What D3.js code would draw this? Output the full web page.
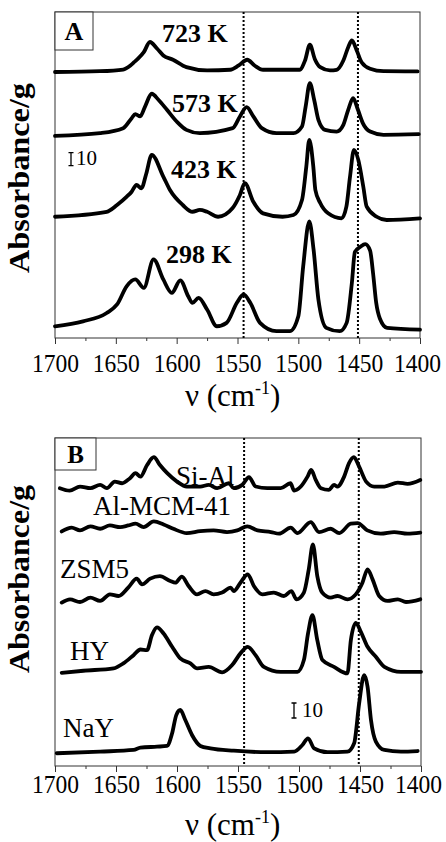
<!DOCTYPE html>
<html>
<head>
<meta charset="utf-8">
<script src="https://cdn.jsdelivr.net/npm/d3@7"></script>
<style>
body { margin: 0; background: #fff; }
text { font-family: "Liberation Serif", "Times New Roman", serif; fill: #000; }
</style>
</head>
<body>
<div id="chart"></div>
<script>
// x ticks (cm-1)
const majorTicks = [1700, 1650, 1600, 1550, 1500, 1450, 1400];
const minorTicks = [1675, 1625, 1575, 1525, 1475, 1425];
const refLines = [1545, 1451];

// panel A: temperature series, [wavenumber, absorbance/g] above each baseline
const labelsA = ["723 K", "573 K", "423 K", "298 K"];
const offsetsA = [204, 155, 93, 9];

const spec723 = [[1700,0],[1663,0.6],[1644,1.9],[1638,5],[1635,7.5],[1632,10],[1627,15.2],[1622,23],[1616,17.8],[1611,12.7],[1603,9.4],[1592,3.7],[1575,1.2],[1556,1.7],[1549,5],[1542,9.4],[1536,5],[1529,1.7],[1499,1.7],[1494.5,8.8],[1490.5,21],[1486.5,10],[1482,3.7],[1474,1.2],[1468.5,1.7],[1463,8.8],[1459,19],[1456,24.2],[1452,16.5],[1448,7.5],[1441,2.5],[1430,0.6],[1402,0.4]];

const spec573 = [[1700,0],[1663,2.1],[1644,5.9],[1637,13.6],[1634,16.7],[1630,14.9],[1626,22.5],[1620.5,32.3],[1615,27.7],[1608,20],[1600,11],[1592,4.6],[1581,2.1],[1554,5.9],[1548,14.9],[1542.5,22],[1537,14.9],[1530,5.9],[1518,2.1],[1504,2.1],[1497,7.2],[1494,22.5],[1490.5,40.5],[1487,27.7],[1483.5,12.3],[1478,4.6],[1468.5,3.3],[1463,8.5],[1459,20],[1455,28.9],[1451,20],[1447,9.8],[1441,3.3],[1430,0.8],[1401,1.3]];

const spec423 = [[1700,0],[1657.5,3.8],[1649,9],[1641,15.4],[1637,19.2],[1633,24.4],[1629,21.8],[1625,33],[1620.5,47.5],[1611,30.8],[1605.5,20.5],[1595,9],[1587,3.8],[1581,5.2],[1575,3.8],[1566,0],[1554,6.7],[1548,16.7],[1544,25.7],[1537,11.5],[1529,2.6],[1513,0],[1504,1.3],[1497,12.8],[1493.5,38],[1491,59],[1487.7,38.5],[1486,20.5],[1482,10.5],[1475.5,2.6],[1464.5,-1.2],[1460.5,7.7],[1457.5,30.8],[1454.3,51.3],[1450.7,43.6],[1446.6,23],[1443.8,7.7],[1435.6,0],[1427.4,-2.5],[1400,-1.2]];

const spec298 = [[1700,0],[1677,3.8],[1657.5,10.2],[1649,16.7],[1641,30.8],[1634,35.9],[1627,29.5],[1619,51.3],[1611,35.9],[1604,25.6],[1597,35.2],[1590.5,23],[1587,17.9],[1582,21.8],[1575,12.8],[1567,0],[1559,2.6],[1550.5,18],[1545,24.4],[1539.5,18],[1531.5,2.6],[1518,-3.8],[1507,-3.8],[1500,7.7],[1496,46],[1491,80.5],[1487.5,59],[1483.5,20.5],[1477,-1.2],[1466,-3.8],[1460.3,2.6],[1456,33.3],[1453.5,57],[1449,61],[1445,63],[1441,58],[1438.5,40],[1436,18],[1433,6],[1427,-1.2],[1400,-2.6]];

// panel B: catalysts
const labelsB = ["Si-Al", "Al-MCM-41", "ZSM5", "HY", "NaY"];
const offsetsB = [185.5, 157.3, 109.5, 62.7, 8.5];

const specSiAl = [[1696,0],[1688,-1.6],[1679.5,1.1],[1671,0],[1663,2.2],[1657.5,0],[1651,4.4],[1645,3.3],[1638.5,6.7],[1634,10],[1630,7.7],[1624.5,15.5],[1619,20.7],[1614,15.5],[1608,10],[1600,4.4],[1592,1.1],[1581,1.1],[1574,2.2],[1567,0],[1557.5,3.3],[1553.5,0],[1546.5,2.2],[1541,7.3],[1535.5,1.1],[1526,0],[1515,0],[1507,3.3],[1504,-1.6],[1498.5,1.1],[1493,7.7],[1490,12.2],[1486.3,5.5],[1482,0],[1475.5,-1.1],[1471.3,2.2],[1468.5,1.1],[1463,7.7],[1459,16.7],[1455,20.7],[1450.7,14.4],[1445,4.4],[1438.4,1.1],[1430,1.1],[1419,3.7],[1411,2.9],[1400.6,5.5]];

const specMCM = [[1694.5,-0.7],[1686.3,1.8],[1679.5,0],[1671,2.7],[1663,1.1],[1655,3.3],[1646.6,2.2],[1640,3.3],[1634,4.5],[1627.4,2.2],[1619,6],[1611,4],[1603,1.1],[1592,-1.8],[1581,-0.5],[1570,0],[1559,-1.1],[1550.6,0],[1542.4,2.7],[1534,0],[1523,-1.1],[1516.4,-2.2],[1506.8,1.8],[1501.3,-1.8],[1490.4,5.5],[1483.6,-1.1],[1474,1.1],[1467,-1.8],[1457.5,4.5],[1452,4.9],[1444,0],[1433,-2.2],[1422,-1.1],[1411,-2.2],[1400.6,-1.5]];

const specZSM5 = [[1694.5,-0.4],[1687.7,1.8],[1679.5,0],[1671,2.9],[1663,0.7],[1655,5.1],[1648,4],[1640,9.6],[1633,15.6],[1628.7,11.8],[1622,15.6],[1614,17.3],[1605.5,14],[1601.4,12.9],[1596,17],[1590.5,10.7],[1583.6,5.1],[1576.7,7.3],[1570,5.1],[1563,6.3],[1556,9.6],[1553.5,7.3],[1548,12.9],[1542,18.5],[1537,10.7],[1530,5.1],[1520.6,6.3],[1512.4,4],[1506.3,7.3],[1502,1.8],[1496,6.3],[1492,21.8],[1488.6,38.5],[1485,17.3],[1481,6.3],[1474,2.9],[1468.5,4],[1460.3,1.8],[1453.5,5.1],[1448,12.9],[1443.8,21.8],[1439.7,15.1],[1434.3,4],[1427.4,0.7],[1419,1.8],[1412.3,0],[1400.6,1.8]];

const specHY = [[1694.5,-0.5],[1676.7,0.9],[1652,2.5],[1644,5.8],[1635.6,11.3],[1630,15.1],[1624.6,14.7],[1620.5,24.7],[1616.4,29.8],[1611,25.8],[1604,16.9],[1597.3,9.1],[1589,5.8],[1583.5,2.5],[1574,3.5],[1563,-0.2],[1554.8,4.7],[1548,12.5],[1542,16.9],[1535.6,11.3],[1528.8,3.5],[1515,0.2],[1501.3,0.2],[1496,8],[1492.6,25.8],[1489,38],[1485,21.3],[1480.8,8],[1471.3,3.5],[1460.3,-0.9],[1457.5,21.3],[1453.4,32.9],[1449.3,26.9],[1443.8,16.9],[1437,10.2],[1430,3.5],[1416.4,0.2],[1400,0.2]];

const specNaY = [[1698.6,0],[1663,1.1],[1635.6,2.2],[1630,3.7],[1616.4,4.4],[1608.2,4.9],[1604,13.3],[1600.6,25.5],[1597.3,28.9],[1593.2,22.2],[1587.7,12.2],[1580.8,4.9],[1572.6,3.3],[1553.5,1.7],[1526,0.7],[1504,1.1],[1497.2,5.5],[1492.6,10],[1487.6,3.3],[1476.7,0.7],[1460.3,1.1],[1454.8,6.7],[1450.7,33.3],[1446.6,52.2],[1443.8,44.4],[1441,22.2],[1437,7.8],[1430,2.2],[1416.4,1.1],[1402.7,1.5]];

const W = 446, H = 842;

const svg = d3.select("#chart")
    .append("svg")
    .attr("width", W)
    .attr("height", H);

const panels = [
    {
        letter: "A", left: 55, right: 420, top: 12, bottom: 338, yMax: 250,
        box: {w: 38, h: 38, size: 26},
        series: [spec723, spec573, spec423, spec298],
        offsets: offsetsA, labels: labelsA,
        labelPos: [[162, 42], [172, 112], [171, 178], [166, 263]],
        labelStyle: {size: 26, weight: "bold"},
        bar: {x: 71, y: 165.7, tx: 76, ty: 165, size: 21},
        tickPad: 10, xLabelY: 406, yLabelY: 178, yLabelLen: 190
    },
    {
        letter: "B", left: 55, right: 421, top: 438, bottom: 766, yMax: 219,
        box: {w: 41, h: 32, size: 25},
        series: [specSiAl, specMCM, specZSM5, specHY, specNaY],
        offsets: offsetsB, labels: labelsB,
        labelPos: [[176, 485], [93, 515], [60, 578], [70, 660], [63, 737]],
        labelStyle: {size: 27, weight: "normal"},
        bar: {x: 294, y: 718, tx: 302, ty: 717, size: 21},
        tickPad: 3, xLabelY: 835, yLabelY: 579, yLabelLen: 188
    }
];

panels.forEach(drawPanel);

function drawPanel(p) {
    let g = svg.append("g");

    let x = d3.scaleLinear().domain([1700, 1400]).range([p.left, p.right]);
    let y = d3.scaleLinear().domain([0, p.yMax]).range([p.bottom, p.top]);

    // frame
    g.append("rect")
        .attr("x", p.left).attr("y", p.top)
        .attr("width", p.right - p.left).attr("height", p.bottom - p.top)
        .attr("fill", "none").attr("stroke", "#333").attr("stroke-width", 1);

    // axes
    let axis = g.append("g")
        .attr("transform", `translate(0, ${p.bottom})`)
        .call(d3.axisBottom(x).tickValues(majorTicks).tickSize(6).tickPadding(p.tickPad).tickFormat(d3.format("d")));
    axis.select(".domain").remove();
    axis.selectAll("line").attr("stroke", "#333");
    axis.selectAll("text")
        .style("font-family", '"Liberation Serif", serif')
        .style("font-size", "26px")
        .attr("fill", "#000")
        .attr("textLength", 47)
        .attr("lengthAdjust", "spacingAndGlyphs")
        .attr("x", d => d === 1400 ? -3 : 0);   // keep last label inside the page

    let minor = g.append("g")
        .attr("transform", `translate(0, ${p.bottom})`)
        .call(d3.axisBottom(x).tickValues(minorTicks).tickSize(3).tickFormat(""));
    minor.select(".domain").remove();
    minor.selectAll("line").attr("stroke", "#333");

    // dotted reference lines
    g.selectAll("line.ref")
        .data(refLines)
        .enter().append("line")
        .attr("class", "ref")
        .attr("x1", d => x(d)).attr("x2", d => x(d))
        .attr("y1", p.top).attr("y2", p.bottom)
        .attr("stroke", "#000").attr("stroke-width", 2)
        .attr("stroke-dasharray", "2,2");

    // spectra
    p.series.forEach((s, i) => {
        let line = d3.line()
            .x(d => x(d[0]))
            .y(d => y(d[1] + p.offsets[i]))
            .curve(d3.curveMonotoneX);
        g.append("path")
            .datum(s)
            .attr("d", line)
            .attr("fill", "none")
            .attr("stroke", "#000")
            .attr("stroke-width", 3.8)
            .attr("stroke-linejoin", "round")
            .attr("stroke-linecap", "round");
    });

    // series labels
    p.labels.forEach((t, i) => {
        g.append("text")
            .attr("x", p.labelPos[i][0])
            .attr("y", p.labelPos[i][1])
            .style("font-size", p.labelStyle.size + "px")
            .style("font-weight", p.labelStyle.weight)
            .text(t);
    });

    // scale bar, 10 units tall
    let h10 = y(0) - y(10);
    let b = p.bar;
    g.append("path")
        .attr("d", `M${b.x},${b.y}V${b.y - h10}M${b.x - 2.5},${b.y}H${b.x + 2.5}M${b.x - 2.5},${b.y - h10}H${b.x + 2.5}`)
        .attr("stroke", "#000").attr("stroke-width", 1.3).attr("fill", "none");
    g.append("text")
        .attr("x", b.tx).attr("y", b.ty)
        .style("font-size", b.size + "px")
        .text("10");

    // panel letter box
    g.append("rect")
        .attr("x", p.left).attr("y", p.top)
        .attr("width", p.box.w).attr("height", p.box.h)
        .attr("fill", "#fff").attr("stroke", "#333").attr("stroke-width", 1);
    g.append("text")
        .attr("x", p.left + p.box.w / 2)
        .attr("y", p.top + p.box.h / 2)
        .attr("dy", "0.35em")
        .attr("text-anchor", "middle")
        .style("font-size", p.box.size + "px")
        .style("font-weight", "bold")
        .text(p.letter);

    // x label
    let xl = g.append("text")
        .attr("x", 185)
        .attr("y", p.xLabelY)
        .style("font-size", "31px");
    xl.append("tspan").text("ν (cm");
    xl.append("tspan").attr("dy", -12).style("font-size", "18px").text("-1");
    xl.append("tspan").attr("dy", 12).text(")");

    // y label
    g.append("text")
        .attr("transform", `translate(29, ${p.yLabelY}) rotate(-90)`)
        .attr("x", -p.yLabelLen / 2)
        .attr("textLength", p.yLabelLen)
        .attr("lengthAdjust", "spacingAndGlyphs")
        .style("font-size", "30px")
        .style("font-weight", "bold")
        .text("Absorbance/g");
}
</script>
</body>
</html>
